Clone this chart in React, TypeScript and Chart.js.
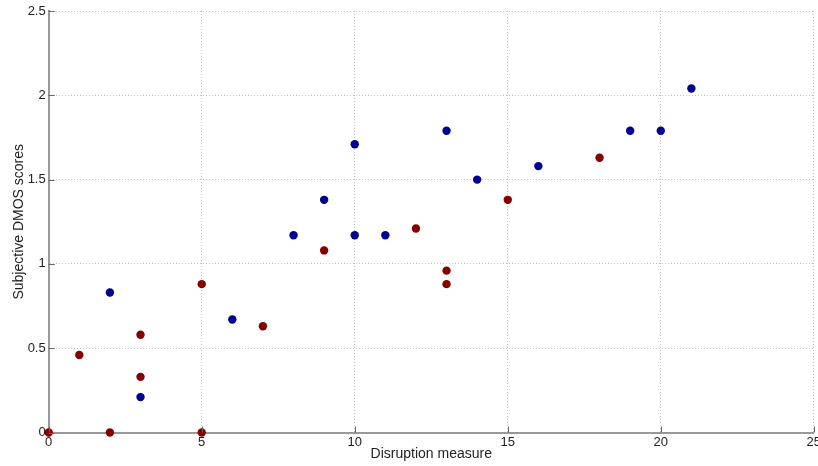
import React, { useEffect, useRef } from "react";
import { Chart, registerables } from "chart.js";

Chart.register(...registerables);

const blueX = [2, 3, 6, 8, 9, 10, 10, 11, 13, 14, 16, 19, 20, 21];
const blueY = [0.83, 0.21, 0.67, 1.17, 1.38, 1.71, 1.17, 1.17, 1.79, 1.5, 1.58, 1.79, 1.79, 2.04];
const redX = [0, 1, 2, 3, 3, 5, 5, 7, 9, 12, 13, 13, 15, 18];
const redY = [0, 0.46, 0, 0.58, 0.33, 0.88, 0, 0.63, 1.08, 1.21, 0.96, 0.88, 1.38, 1.63];
const xTicks = [0, 5, 10, 15, 20, 25];
const yTicks = [0, 0.5, 1, 1.5, 2, 2.5];

const FONT = "'Liberation Sans', Arial, sans-serif";

const innerTicks = {
  id: "innerTicks",
  afterDatasetsDraw(chart: any) {
    const { ctx, chartArea, scales } = chart;
    ctx.save();
    ctx.strokeStyle = "#666";
    ctx.lineWidth = 1;
    ctx.beginPath();
    xTicks.forEach((v) => {
      const px = Math.round(scales.x.getPixelForValue(v)) + 0.5;
      ctx.moveTo(px, chartArea.bottom);
      ctx.lineTo(px, chartArea.bottom - 6);
    });
    yTicks.forEach((v) => {
      const py = Math.round(scales.y.getPixelForValue(v)) + 0.5;
      ctx.moveTo(chartArea.left, py);
      ctx.lineTo(chartArea.left + 6, py);
    });
    ctx.stroke();
    ctx.restore();
  },
};

export default function App() {
  const ref = useRef<HTMLCanvasElement>(null);
  useEffect(() => {
    document.body.style.margin = "0";
    const blue = blueX.map((x, i) => ({ x, y: blueY[i] }));
    const red = redX.map((x, i) => ({ x, y: redY[i] }));
    const chart = new Chart(ref.current!, {
      type: "scatter",
      data: {
        datasets: [
          {
            data: blue,
            backgroundColor: "#000092",
            borderColor: "#000092",
            pointRadius: 4.2,
            pointBorderWidth: 0,
            clip: false,
          },
          {
            data: red,
            backgroundColor: "#850000",
            borderColor: "#850000",
            pointRadius: 4.2,
            pointBorderWidth: 0,
            clip: false,
          },
        ],
      },
      options: {
        animation: false,
        responsive: false,
        devicePixelRatio: 1,
        layout: { padding: { top: 11, right: 3, left: 0, bottom: 0 } },
        plugins: { legend: { display: false }, tooltip: { enabled: false } },
        scales: {
          x: {
            type: "linear",
            min: 0,
            max: 25,
            afterBuildTicks: (s: any) => {
              s.ticks = xTicks.map((v) => ({ value: v }));
            },
            afterFit: (s: any) => {
              s.height = 33.5;
              s.paddingLeft = 0;
              s.paddingRight = 0;
            },
            ticks: {
              font: { family: FONT, size: 13 },
              color: "#222",
              padding: 2,
              maxRotation: 0,
              callback: (v: any) => String(v),
            },
            grid: { color: "#c4c4c4", drawTicks: false, lineWidth: 1 },
            border: { display: true, color: "#999", width: 2, dash: [1, 2] },
            title: {
              display: true,
              text: "Disruption measure",
              font: { family: FONT, size: 14 },
              color: "#222",
              padding: { top: 0, bottom: 3 },
            },
          },
          y: {
            type: "linear",
            min: 0,
            max: 2.5,
            afterBuildTicks: (s: any) => {
              s.ticks = yTicks.map((v) => ({ value: v }));
            },
            afterFit: (s: any) => {
              s.width = 48.7;
              s.paddingTop = 0;
              s.paddingBottom = 0;
            },
            ticks: {
              font: { family: FONT, size: 13 },
              color: "#222",
              padding: 3,
              callback: (v: any) => String(v),
            },
            grid: { color: "#c4c4c4", drawTicks: false, lineWidth: 1 },
            border: { display: true, color: "#999", width: 2, dash: [1, 2] },
            title: {
              display: true,
              text: "Subjective DMOS scores",
              font: { family: FONT, size: 14 },
              color: "#222",
              padding: { top: 11, bottom: 0 },
            },
          },
        },
      },
      plugins: [innerTicks],
    });
    return () => chart.destroy();
  }, []);
  return (
    <div style={{ width: 818, height: 466 }}>
      <canvas ref={ref} width={818} height={466} style={{ display: "block" }} />
    </div>
  );
}
